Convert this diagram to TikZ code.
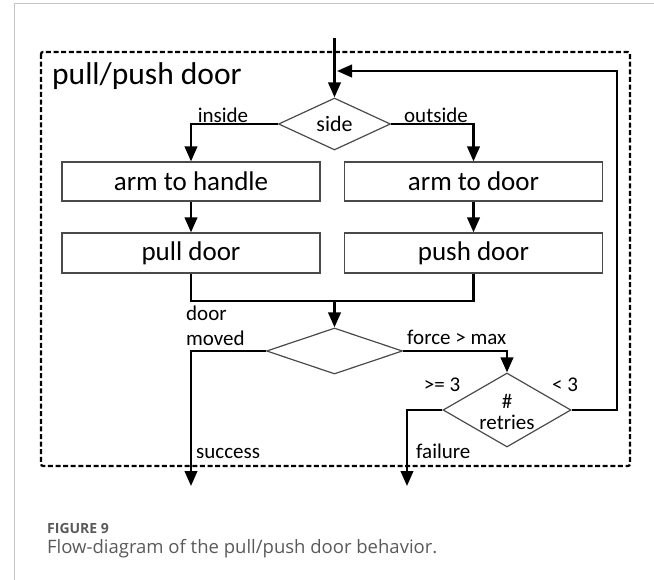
\documentclass[tikz,border=0pt]{standalone}
\usepackage{fontspec}
\setmainfont{Carlito}
\newfontfamily\capfont{Open Sans}
\usetikzlibrary{arrows.meta,shapes.geometric}
\definecolor{panelgray}{HTML}{C4C4C4}
\definecolor{boxgray}{HTML}{4A4A4A}
\definecolor{captxt}{HTML}{5A5A5A}
\begin{document}
\begin{tikzpicture}[x=1pt,y=-1pt,
  conn/.style={line width=2.4pt,black},
  flow/.style={conn,-{Triangle[width=12.5pt,length=15pt]}},
  procbox/.style={draw=boxgray,line width=1.2pt,minimum width=258pt,minimum height=39pt,inner sep=0pt,font=\fontsize{27}{29}\selectfont},
  decision/.style={diamond,draw=boxgray,line width=1.2pt,inner sep=0pt,font=\fontsize{22}{24}\selectfont},
  lbl/.style={font=\fontsize{21}{23}\selectfont,inner sep=0pt},
  frame/.style={line width=2.2pt,dash pattern=on 5pt off 2.6pt,rounded corners=2pt}]
\useasboundingbox (0,0) rectangle (654,580);
% panel border
\draw[panelgray,line width=1pt] (14,580) -- (14,4) -- (654,4);
% dashed frame of the behaviour
\draw[frame] (41,52) rectangle (630,466);
\node[anchor=west,inner sep=0pt,font=\fontsize{31.5}{33}\selectfont] (title) at (52,76) {pull/push door};

% nodes
\node[decision,minimum width=112pt,minimum height=52pt] (side) at (334.5,124) {side};
\node[procbox] (arm1) at (191,181.5) {arm to handle};
\node[procbox] (arm2) at (473.5,181.5) {arm to door};
\node[procbox,minimum height=40pt] (pull) at (191,253) {pull door};
\node[procbox,minimum height=40pt] (push) at (473.5,253) {push door};
\node[decision,minimum width=136pt,minimum height=46pt] (moved) at (334.5,351) {};
\node[decision,minimum width=128pt,minimum height=74pt,
  label={[lbl,align=center,yshift=-2pt]center:{\#\\[-2pt]retries}}] (retries) at (507,410) {};

\coordinate (start) at (334.5,38);
\coordinate (join) at (334.5,301);
\coordinate (success) at (191,486);
\coordinate (failure) at (407,486);
\coordinate (loopcorner) at (617,71);
\coordinate (loopend) at (337,71);

% connectors
\draw[flow] (start) -- (side.north);
\draw[flow] (side.west) -| (arm1.north);
\draw[flow] (side.east) -| (arm2.north);
\draw[flow] (arm1) -- (pull);
\draw[flow] (arm2) -- (push);
\draw[conn] (pull.south) |- (join) -| (push.south);
\draw[flow] (join) -- (moved.north);
\draw[flow] (moved.west) -| (success);
\draw[flow] (moved.east) -| (retries.north);
\draw[flow] (retries.west) -| (failure);
\draw[flow] (retries.east) -| (loopcorner) -- (loopend);

% branch labels
\node[lbl] (lin) at (223,115) {inside};
\node[lbl] (lout) at (436,115) {outside};
\node[lbl,anchor=west] (ldoor) at (186,313) {door};
\node[lbl,anchor=west] (lmoved) at (186,338) {moved};
\node[lbl,anchor=west] (lforce) at (407,337) {force > max};
\node[lbl] (lge) at (442,385) {>= 3};
\node[lbl] (llt) at (565,385) {< 3};
\node[lbl,anchor=west] (lsucc) at (196,453) {success};
\node[lbl,anchor=west] (lfail) at (416,451) {failure};

% caption
\node[anchor=west,inner sep=0pt,text=captxt,font=\capfont\fontsize{14}{16}\selectfont\bfseries] (fig) at (47,528) {FIGURE 9};
\node[anchor=west,inner sep=0pt,text=captxt,font=\capfont\fontsize{18.5}{20}\selectfont] (cap) at (47,549) {Flow-diagram of the pull/push door behavior.};
\end{tikzpicture}
\end{document}
